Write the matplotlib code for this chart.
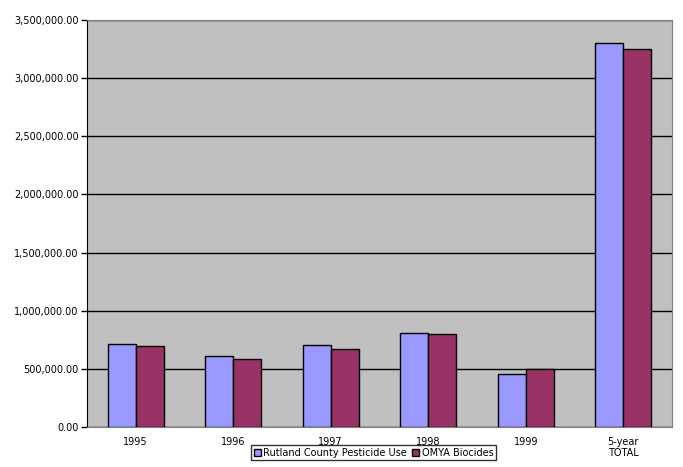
import numpy as np
import matplotlib.pyplot as plt
from matplotlib.ticker import FuncFormatter

categories = ["1995", "1996", "1997", "1998", "1999", "5-year\nTOTAL"]
rutland = [711000, 608000, 703000, 806000, 453000, 3300000]
omya = [694000, 588000, 668000, 797000, 495000, 3248000]
series_names = ["Rutland County Pesticide Use", "OMYA Biocides"]

fig = plt.figure(figsize=(6.83, 4.67), dpi=100)
ax = fig.add_axes([87 / 683, 40 / 467, 585 / 683, 407 / 467])
ax.set_facecolor("#c0c0c0")

x = np.arange(len(categories))
w = 0.285
ax.bar(x - w / 2, rutland, w, color="#9999ff", edgecolor="black",
       linewidth=1, label=series_names[0], zorder=3)
ax.bar(x + w / 2, omya, w, color="#993366", edgecolor="black",
       linewidth=1, label=series_names[1], zorder=3)

ax.set_xlim(-0.5, len(categories) - 0.5)
ax.set_ylim(0, 3500000)
ax.set_yticks(np.arange(0, 3500001, 500000))
ax.yaxis.set_major_formatter(FuncFormatter(lambda v, p: f"{v:,.2f}"))
ax.yaxis.grid(True, color="black", linewidth=1, zorder=1)
ax.set_axisbelow(True)

ax.set_xticks(x)
ax.set_xticklabels(categories, fontsize=7, va="top", linespacing=1.2)
ax.tick_params(axis="x", length=0, pad=7)
ax.tick_params(axis="y", labelsize=7, length=4, width=1, color="black", pad=2)

for s in ["top", "right"]:
    ax.spines[s].set_color("#808080")
ax.spines["left"].set_color("black")
ax.spines["bottom"].set_color("#808080")

leg = ax.legend(loc="upper center", bbox_to_anchor=(0.49, -0.045), ncol=2,
                fontsize=7, frameon=True, fancybox=False, edgecolor="black",
                handlelength=0.7, handleheight=0.7, handletextpad=0.3,
                columnspacing=0.5, borderpad=0.25, borderaxespad=0)
leg.get_frame().set_linewidth(1)

fig.savefig("out.png", dpi=100)
